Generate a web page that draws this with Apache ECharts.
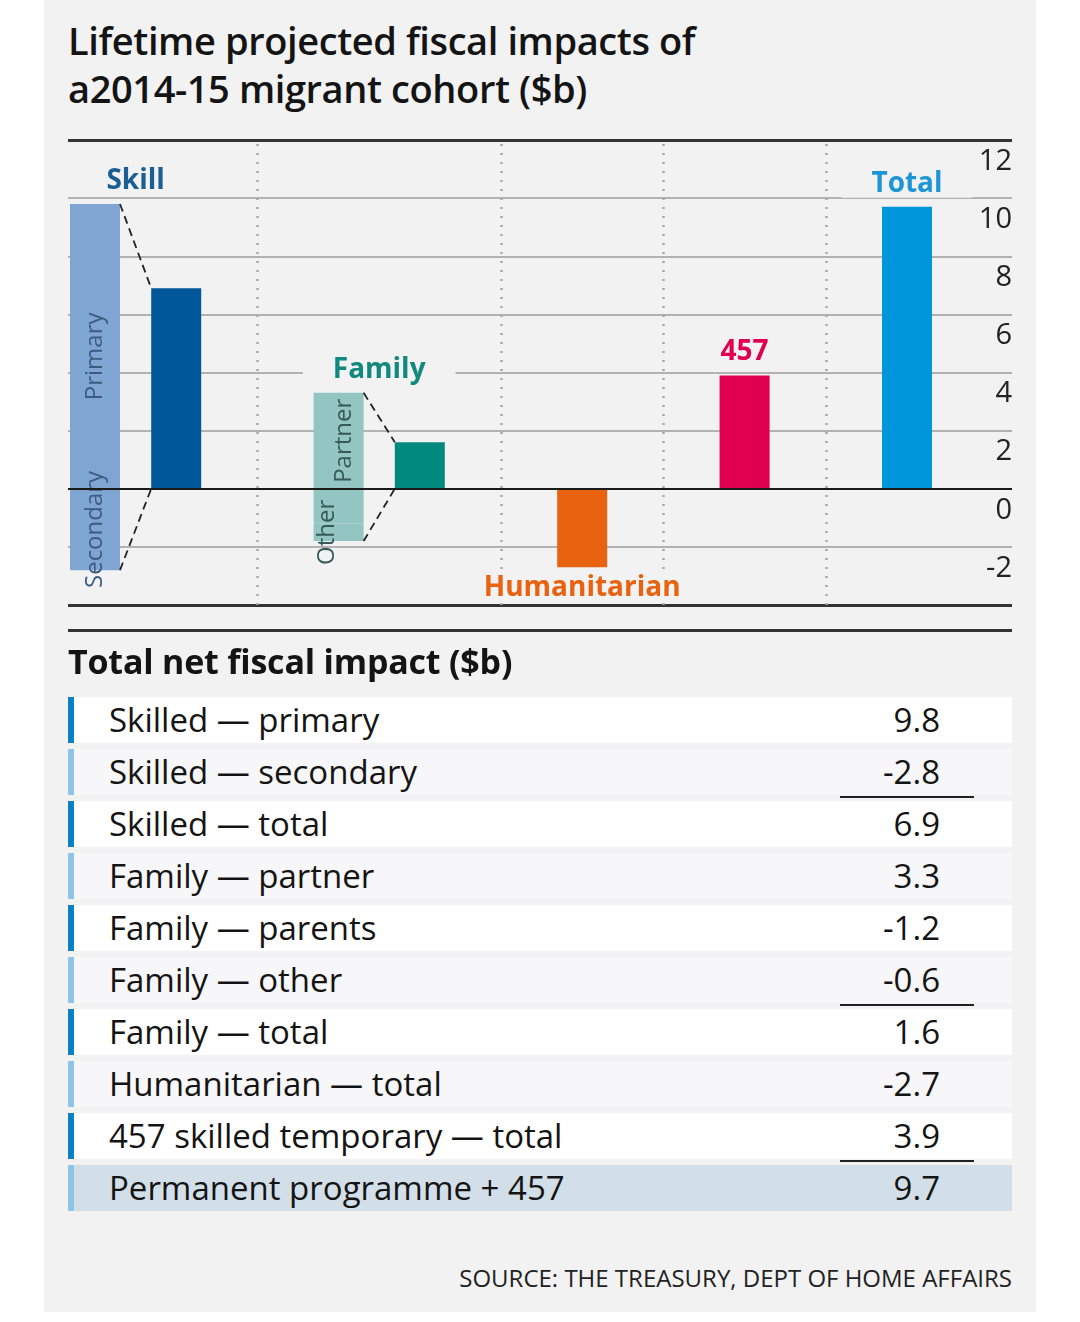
<!DOCTYPE html>
<html>
<head>
<meta charset="utf-8">
<title>Lifetime projected fiscal impacts</title>
<script src="https://cdn.jsdelivr.net/npm/echarts@6/dist/echarts.min.js"></script>
<style>
  body { margin: 0; width: 1080px; height: 1322px; background: #fff; position: relative; overflow: hidden;
         font-family: "Open Sans", "Noto Sans", sans-serif; color: #141414; }
  #panel { position: absolute; left: 44px; top: 0; width: 992px; height: 1312px; background: #f2f2f3; }
  #title { position: absolute; left: 68px; top: 16px; font-size: 38px; line-height: 48px; font-weight: 600; letter-spacing: -0.4px; }
  #main { position: absolute; left: 0; top: 0; width: 1080px; height: 640px; }
  #rule { position: absolute; left: 68px; top: 629px; width: 944px; height: 3px; background: #333; }
  #heading { position: absolute; left: 68px; top: 639px; font-size: 34px; line-height: 44px; font-weight: 700; letter-spacing: -0.2px; }
  .row { position: absolute; left: 68px; width: 944px; height: 46px; line-height: 46px; font-size: 33px; }
  .row .bar { position: absolute; left: 0; top: 0; width: 6px; height: 46px; }
  .row .lab { position: absolute; left: 41px; top: 0; white-space: nowrap; }
  .row .val { position: absolute; right: 72px; top: 0; }
  .sum { position: absolute; left: 840px; width: 134px; height: 2px; background: #222; }
  #source { position: absolute; right: 68px; top: 1262px; font-size: 24px; line-height: 32px; white-space: nowrap; color: #222; }
</style>
</head>
<body>
<div id="panel"></div>
<div id="title">Lifetime projected fiscal impacts of<br>a2014-15 migrant cohort ($b)</div>
<div id="main"></div>
<div id="rule"></div>
<div id="heading">Total net fiscal impact ($b)</div>
<div id="table"></div>
<div id="source">SOURCE: THE TREASURY, DEPT OF HOME AFFAIRS</div>
<script>
// table rows (also feed the bars)
var tableLabels = ['Skilled — primary', 'Skilled — secondary', 'Skilled — total',
  'Family — partner', 'Family — parents', 'Family — other', 'Family — total',
  'Humanitarian — total', '457 skilled temporary — total', 'Permanent programme + 457'];
var tableValues = [9.8, -2.8, 6.9, 3.3, -1.2, -0.6, 1.6, -2.7, 3.9, 9.7];
var subtotalAfter = [1, 5, 8];

// chart slots along the x axis
var slots = ['Skill parts', 'Skill total', 'gap 1', 'Family parts', 'Family total', 'gap 2',
  'Humanitarian', 'gap 3', '457', 'gap 4', 'Total'];
var separators = ['gap 1', 'gap 2', 'gap 3', 'gap 4'];
var yMin = -4, yMax = 12, yStep = 2;

var groupNames = ['Skill', 'Family', 'Humanitarian', '457', 'Total'];
var groupSlots = [[0, 1], [3, 4], [6, 6], [8, 8], [10, 10]];
var groupColors = ['#1b5e93', '#11897f', '#e8620f', '#e0004e', '#1e96d6'];

var partColor = { skill: '#7fa5d2', family: '#93c5c2' };
var totalColors = ['#00579a', '#00897f', '#e8620f', '#e0004e', '#0096dc'];

// --- table ---
var table = document.getElementById('table');
var rowBg = ['#ffffff', '#f7f6f9'];
for (var i = 0; i < tableLabels.length; i++) {
  var rowTop = 697 + i * 52;
  var last = i == tableLabels.length - 1;
  var row = document.createElement('div');
  row.className = 'row';
  row.style.top = rowTop + 'px';
  row.style.background = last ? '#d3dfe8' : rowBg[i % 2];
  row.innerHTML = '<div class="bar" style="background:' + (i % 2 ? '#8ec5e9' : '#0a7fc8') + '"></div>' +
    '<div class="lab">' + tableLabels[i] + '</div><div class="val">' + tableValues[i].toFixed(1) + '</div>';
  table.appendChild(row);
  if (subtotalAfter.indexOf(i) >= 0) {
    var s = document.createElement('div');
    s.className = 'sum';
    s.style.top = (rowTop + 47) + 'px';
    table.appendChild(s);
  }
}

// --- chart ---
function slotData(pairs) {
  var a = slots.map(function () { return '-'; });
  pairs.forEach(function (p) { a[p[0]] = p[1]; });
  return a;
}

var v = tableValues;
// labels are rotated, so offset is [along text, across text]
var partLabel = {
  show: true, position: 'inside', rotate: 90, fontSize: 24, fontFamily: 'Open Sans'
};
var partsUp = slotData([
  [0, { value: v[0], itemStyle: { color: partColor.skill }, label: { formatter: 'Primary', color: '#3b5b82', offset: [-10, 0] } }],
  [3, { value: v[3], itemStyle: { color: partColor.family }, label: { formatter: 'Partner', color: '#355a57', offset: [0, 6] } }]
]);
var partsDown1 = slotData([
  [0, { value: v[1], itemStyle: { color: partColor.skill }, label: { formatter: 'Secondary', color: '#3b5b82' } }],
  [3, { value: v[4], itemStyle: { color: partColor.family }, label: { show: false } }]
]);
var partsDown2 = slotData([
  [3, { value: v[5], itemStyle: { color: partColor.family }, label: { formatter: 'Other', color: '#355a57', offset: [0, -11] } }]
]);
var totalSlots = [1, 4, 6, 8, 10];
var totalVals = [v[2], v[6], v[7], v[8], v[9]];
var totals = slotData(totalSlots.map(function (s, k) {
  return [s, { value: totalVals[k], itemStyle: { color: totalColors[k] } }];
}));

// dashed connectors: from the edge of the parts bar to the edge of the total bar
var connectors = [
  [0, v[0], 1, v[2]],
  [0, v[1], 1, 0],
  [3, v[3], 4, v[6]],
  [3, v[4] + v[5], 4, 0]
];

// group titles sit just beyond the biggest bar of each group
var groupLabels = groupSlots.map(function (g, k) {
  var vals = [];
  for (var s = g[0]; s <= g[1]; s++) {
    [partsUp, partsDown1, totals].forEach(function (arr) {
      if (arr[s] != '-') vals.push(arr[s].value);
    });
  }
  if (g[0] == 3) vals.push(v[4] + v[5]);
  var ext = vals.reduce(function (a, b) { return Math.abs(b) > Math.abs(a) ? b : a; }, 0);
  return [g[0], g[1], ext];
});

var barWidth = 50;
var myChart = echarts.init(document.getElementById('main'));
myChart.setOption({
  animation: false,
  textStyle: { fontFamily: 'Open Sans' },
  grid: [
    { left: 68, right: 68, top: 140, bottom: 35, outerBoundsMode: 'none' },
    { left: 54.4, width: 893.2, top: 140, bottom: 35, outerBoundsMode: 'none' }
  ],
  xAxis: [
    { gridIndex: 0, type: 'value', min: 0, max: 1, show: false },
    { gridIndex: 1, type: 'category', data: slots, axisLine: { show: false }, axisTick: { show: false },
      axisLabel: { show: false }, splitLine: { show: false } }
  ],
  yAxis: [
    { gridIndex: 0, type: 'value', min: yMin, max: yMax, interval: yStep, position: 'right',
      axisLine: { show: false }, axisTick: { show: false },
      splitLine: { show: true, lineStyle: { color: '#9c9c9c', width: 1.5 } },
      axisLabel: { inside: true, margin: 0, align: 'right', verticalAlign: 'top', padding: [7, 0, 0, 0],
        fontSize: 29, color: '#222',
        formatter: function (val) { return val == yMin ? '' : String(val); } } },
    { gridIndex: 1, type: 'value', min: yMin, max: yMax, interval: yStep, show: false, splitLine: { show: false } }
  ],
  series: [
    { name: 'rules', type: 'line', xAxisIndex: 0, yAxisIndex: 0, data: [], silent: true,
      markLine: { symbol: 'none', silent: true, animation: false, label: { show: false },
        data: [
          { yAxis: yMax, lineStyle: { color: '#333', width: 3, type: 'solid' } },
          { yAxis: 0, lineStyle: { color: '#1a1a1a', width: 2, type: 'solid' } },
          { yAxis: yMin, lineStyle: { color: '#333', width: 3, type: 'solid' } }
        ] } },
    { name: 'parts up', type: 'bar', xAxisIndex: 1, yAxisIndex: 1, stack: 'parts', barWidth: barWidth, barGap: '-100%',
      data: partsUp, label: partLabel },
    { name: 'parts down', type: 'bar', xAxisIndex: 1, yAxisIndex: 1, stack: 'parts', barWidth: barWidth, barGap: '-100%',
      data: partsDown1, label: partLabel },
    { name: 'parts down 2', type: 'bar', xAxisIndex: 1, yAxisIndex: 1, stack: 'parts', barWidth: barWidth, barGap: '-100%',
      data: partsDown2, label: partLabel },
    { name: 'totals', type: 'bar', xAxisIndex: 1, yAxisIndex: 1, barWidth: barWidth, barGap: '-100%',
      data: totals,
      markLine: { symbol: 'none', silent: true, animation: false, label: { show: false },
        lineStyle: { color: '#a8a8a8', width: 2.5, type: [2, 7] },
        data: separators.map(function (s) { return { xAxis: s }; }) } },
    { name: 'connectors', type: 'custom', xAxisIndex: 1, yAxisIndex: 1, data: connectors,
      encode: { x: [0, 2], y: [1, 3] }, silent: true, z: 4,
      renderItem: function (params, api) {
        var p1 = api.coord([api.value(0), api.value(1)]);
        var p2 = api.coord([api.value(2), api.value(3)]);
        return { type: 'line',
          shape: { x1: p1[0] + barWidth / 2, y1: p1[1], x2: p2[0] - barWidth / 2, y2: p2[1] },
          style: { stroke: '#222', lineWidth: 1.8, lineDash: [8, 5] } };
      } },
    { name: 'group labels', type: 'custom', xAxisIndex: 1, yAxisIndex: 1, data: groupLabels,
      encode: { x: [0, 1], y: 2 }, silent: true, z: 6,
      renderItem: function (params, api) {
        var a = api.coord([api.value(0), api.value(2)]);
        var b = api.coord([api.value(1), api.value(2)]);
        var up = api.value(2) >= 0;
        var k = params.dataIndex;
        return { type: 'text', x: (a[0] + b[0]) / 2, y: a[1] + (up ? -23 : 21),
          style: { text: groupNames[k], fill: groupColors[k], font: 'bold 28px "Open Sans"',
            align: 'center', verticalAlign: 'middle', backgroundColor: '#f2f2f3', padding: [0, 30] } };
      } }
  ]
});
</script>
</body>
</html>
